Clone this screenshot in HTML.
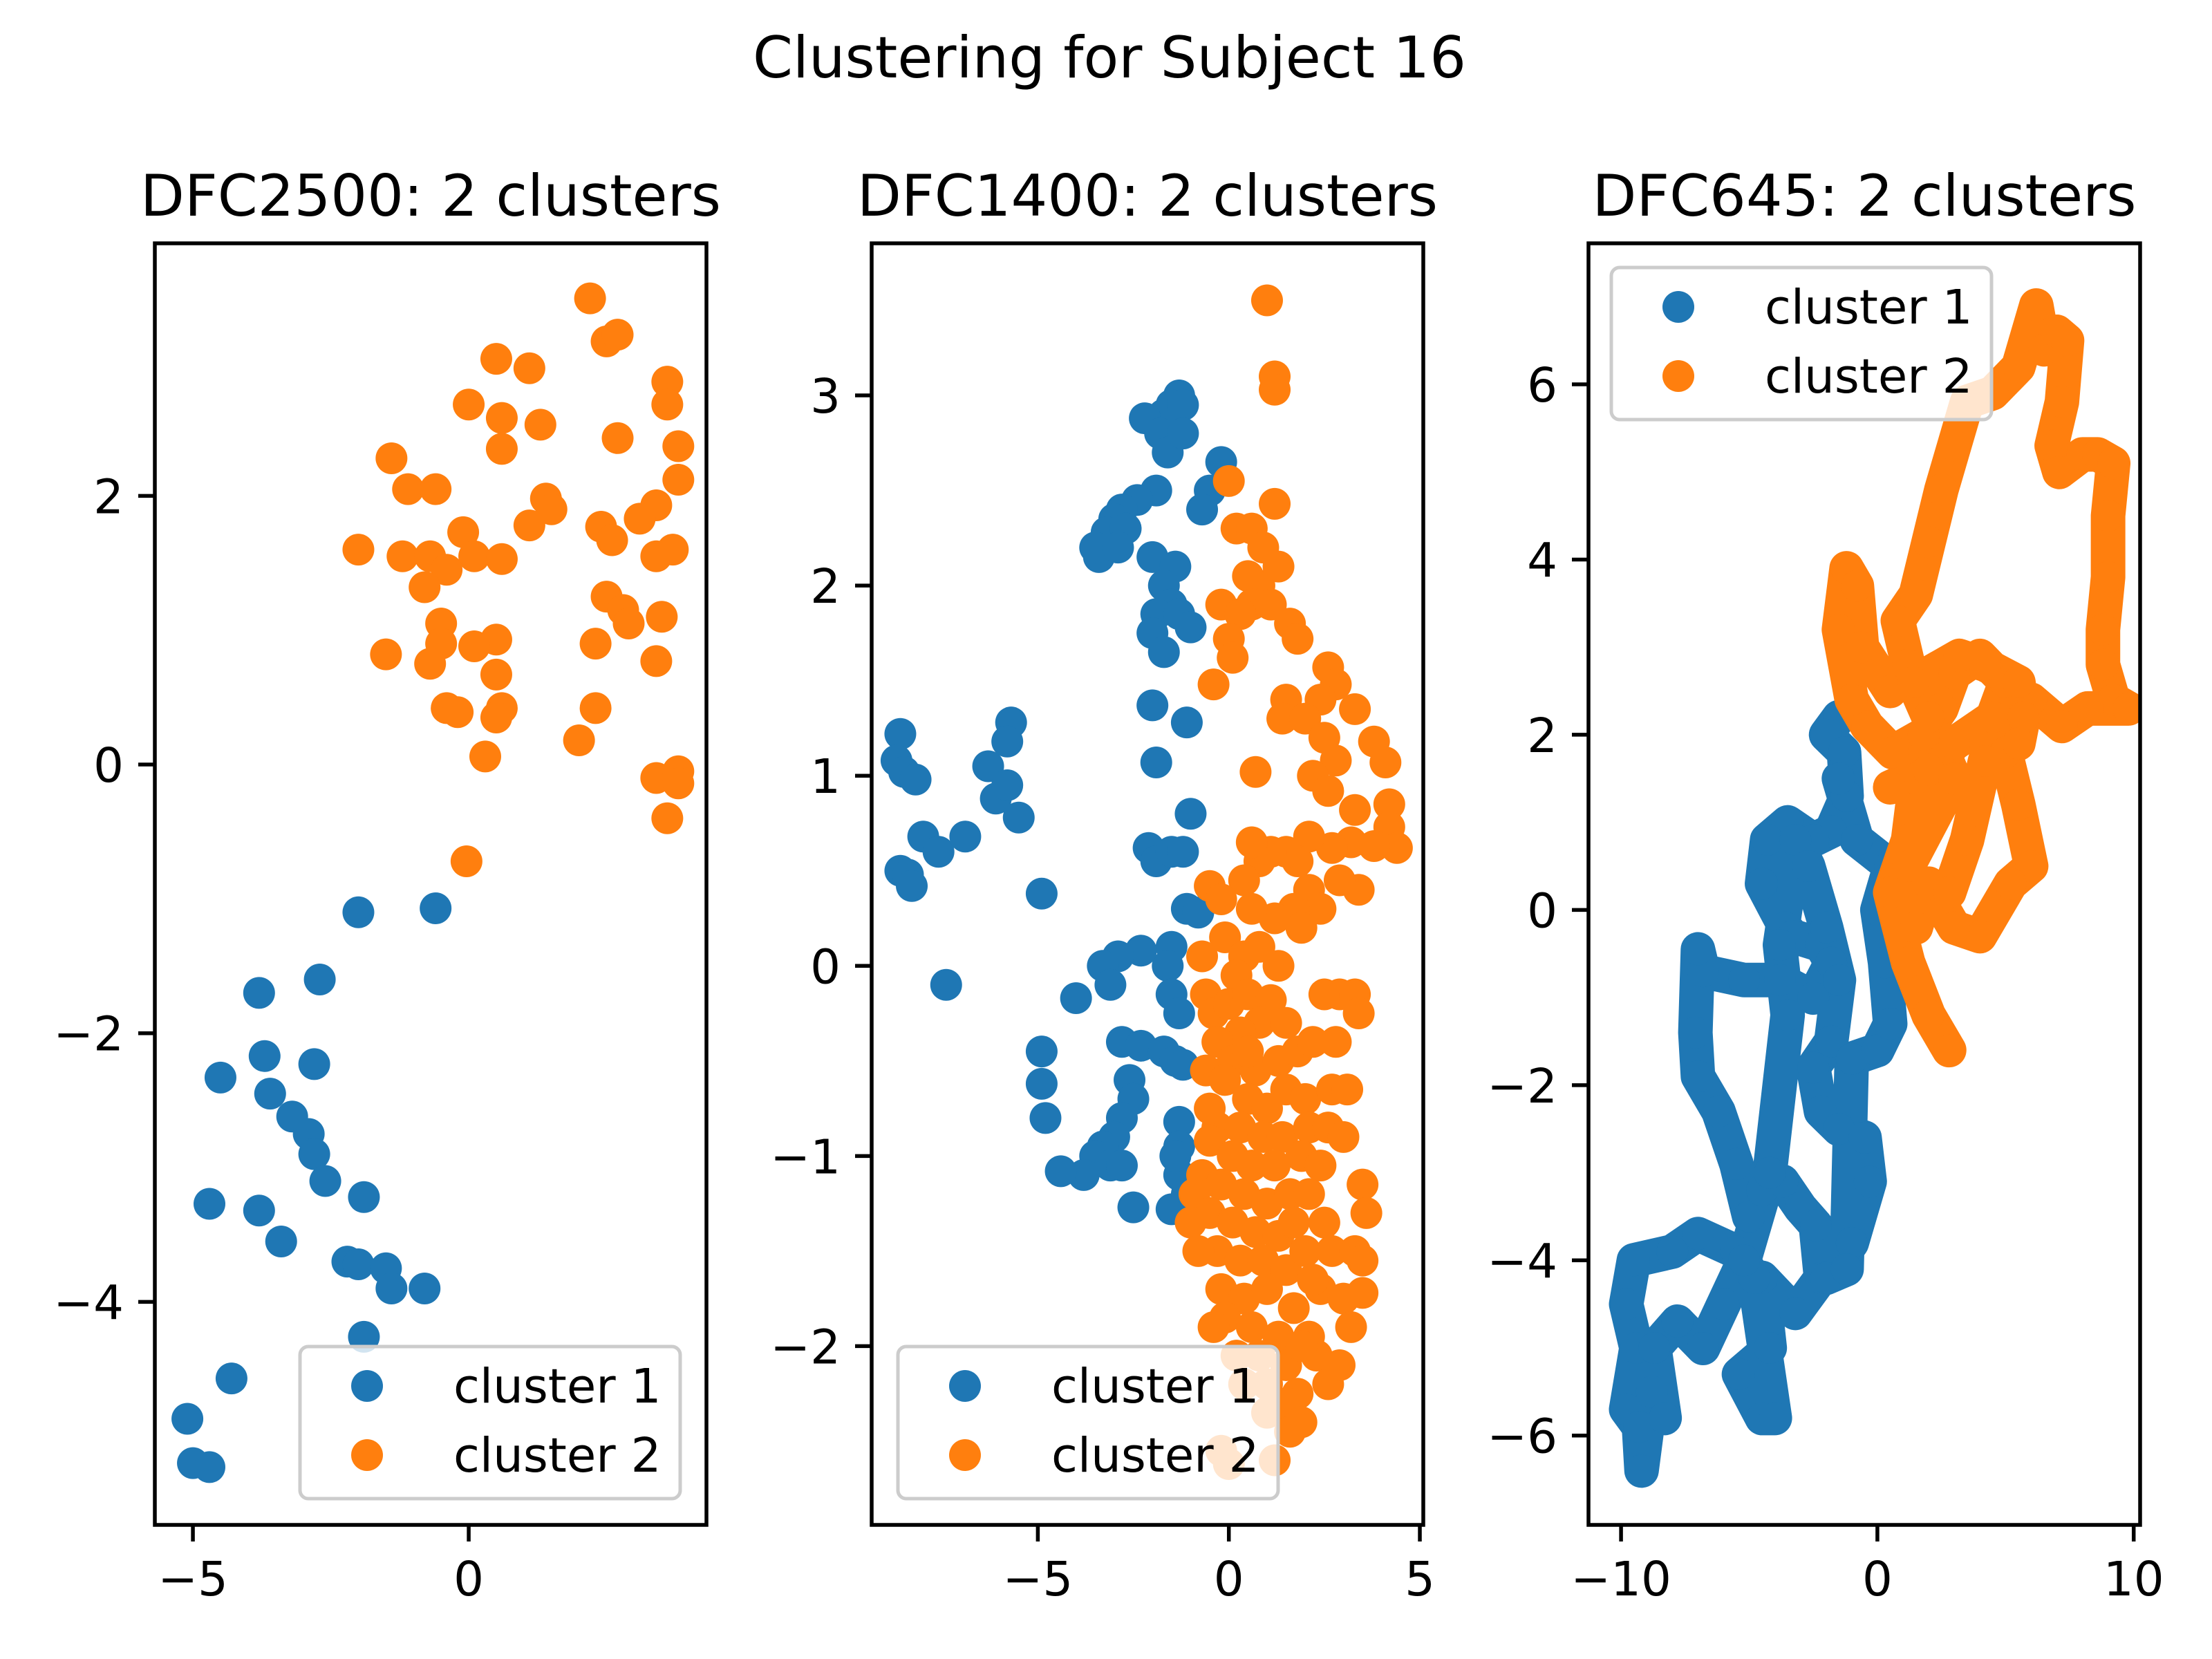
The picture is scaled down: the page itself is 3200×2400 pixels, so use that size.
<!DOCTYPE html>
<html><head><meta charset="utf-8">
<style>html,body{margin:0;padding:0;background:#fff}svg{display:block}</style>
</head><body>
<svg id="chart" xmlns="http://www.w3.org/2000/svg" width="3200" height="2400" viewBox="0 0 3200 2400" font-family="DejaVu Sans, Liberation Sans, sans-serif">
<rect width="3200" height="2400" fill="#fff"/>
<text x="1605" y="112" font-size="83" text-anchor="middle">Clustering for Subject 16</text>
</svg>
<script>
// ---- Panel 1 data (DFC2500) ----
const p1BlueX=[-0.6,-2,-2.7,-3.8,-3.7,-2.8,-4.5,-3.6,-3.2,-2.9,-2.8,-2.6,-1.9,-4.7,-3.8,-3.4,-2.2,-2,-1.5,-1.4,-0.8,-1.9,-4.3,-5.1,-5,-4.7];
const p1BlueY=[-1.07,-1.1,-1.6,-1.7,-2.17,-2.23,-2.33,-2.45,-2.62,-2.75,-2.9,-3.1,-3.22,-3.27,-3.32,-3.55,-3.7,-3.72,-3.75,-3.9,-3.9,-4.26,-4.57,-4.87,-5.2,-5.23];
const p1OrangeX=[2.2,2.5,2.7,0.5,1.1,3.6,3.6,0,0.6,1.3,2.7,0.6,3.8,-1.4,-1.1,-0.6,3.8,1.4,1.5,3.4,3.1,1.1,2.4,-0.1,2.6,-2,-1.2,-0.7,0.1,0.6,3.4,3.7,-0.4,-0.8,2.5,2.8,3.5,-0.5,2.9,0.5,2.3,0.1,-0.5,-1.5,-0.7,3.4,0.5,-0.4,-0.2,0.6,0.5,2.3,2,0.3,3.4,3.8,3.8,3.6,-0.04];
const p1OrangeY=[3.47,3.15,3.2,3.02,2.95,2.85,2.68,2.68,2.58,2.53,2.43,2.35,2.37,2.28,2.05,2.05,2.12,1.98,1.9,1.93,1.83,1.78,1.77,1.73,1.67,1.6,1.55,1.55,1.55,1.53,1.55,1.6,1.45,1.32,1.25,1.15,1.1,1.05,1.05,0.93,0.9,0.88,0.9,0.82,0.75,0.77,0.67,0.42,0.39,0.42,0.35,0.42,0.18,0.06,-0.1,-0.05,-0.14,-0.4,-0.72];
const p1XTicks=[-5,0];const p1YTicks=[-4,-2,0,2];

// ---- Panel 2 data (DFC1400) ----
const p2BlueX=[-1.3,-1.5,-1.7,-2.2,-1.2,-1.8,-1.6,-1.2,-1.9,-2.4,-2.8,-3,-3.2,-2.7,-3.4,-3.5,-2.9,-0.2,-0.5,-0.7,-2,-1.4,-1.7,-1.5,-1.9,-1.3,-1,-2,-1.7,-2,-1.1,-1.9,-1,-2.1,-1.9,-1.5,-1.2,-1.1,-0.8,-1.5,-1.6,-2.3,-2.9,-3.3,-3.1,-4,-1.5,-1.3,-2.8,-2.3,-1.7,-1.4,-1.2,-4.9,-4.9,-4.8,-2.6,-2.5,-2.8,-3,-3.3,-3.5,-3.1,-3.8,-4.4,-2.8,-1.3,-1.3,-1.3,-1.5,-2.5,-1.1,-1.4,-8.6,-8.7,-8.5,-8.2,-8,-7.6,-6.9,-8.6,-8.4,-8.3,-6.3,-5.7,-5.8,-6.1,-5.8,-5.5,-4.9,-7.4];
const p2BlueY=[3,2.95,2.9,2.88,2.95,2.8,2.7,2.8,2.5,2.45,2.4,2.35,2.28,2.3,2.15,2.2,2.2,2.65,2.5,2.4,2.15,2.1,2,1.9,1.85,1.85,1.78,1.75,1.65,1.37,1.28,1.07,0.8,0.62,0.55,0.6,0.6,0.3,0.28,0.1,0,0.08,0.05,0,-0.1,-0.17,-0.15,-0.25,-0.4,-0.42,-0.45,-0.5,-0.52,-0.45,-0.62,-0.8,-0.6,-0.7,-0.8,-0.9,-0.95,-1,-1.05,-1.1,-1.08,-1.05,-0.82,-0.95,-1.1,-1.28,-1.27,-1.2,-1,1.22,1.08,1.02,0.98,0.68,0.6,0.68,0.5,0.48,0.42,1.05,1.28,1.18,0.88,0.95,0.78,0.38,-0.1];
const p2OrangeX=[1,1.2,1.2,1.2,0,0.2,0.6,0.9,0.8,0.5,1.3,0.6,-0.2,0.3,1.1,0,1.6,1.8,0.1,-0.4,2.6,2.8,2.4,3.3,1.5,1.4,2,2.5,3.8,2.8,4.1,2.2,0.7,2.6,3.3,4.2,4.2,4.4,3.8,3.2,2.7,2.1,1.8,1.5,1.1,0.8,0.6,0.4,-0.5,-0.2,3.4,2.9,2.1,2.4,1.7,1.2,0.6,1.9,-0.1,0.4,0.8,-0.7,1.3,0.2,-0.6,-0.4,0,0.5,1.1,0.8,0.3,-0.3,1.5,2.5,2.9,3.3,3.4,0.1,0.7,1.3,1.8,2.2,2.8,-0.6,-0.1,0.5,1,1.5,2,2.7,3.1,-0.3,0.3,0.9,1.4,2.1,2.6,-0.5,0.1,0.6,1.2,1.9,2.4,3,-0.7,-0.2,0.4,1,1.6,2.1,3.5,3.6,-0.9,-0.5,0.1,0.7,1.3,2.5,-1,-0.3,0.3,0.9,1.5,2,2.7,3.3,3.5,-0.8,-0.2,0.4,1,1.7,2.4,3,3.5,-0.1,0.6,1.3,2.1,3.2,0.2,0.8,1.5,2.3,0.4,1,1.8,2.6,2.9,1,1.5,1.9,1.6,-0.2,0,1.2,1.9,-0.4,0.5,-0.5,1.7,2.2];
const p2OrangeY=[3.5,3.1,3.03,2.43,2.55,2.3,2.3,2.2,2,2.05,2.1,1.9,1.9,1.85,1.9,1.72,1.8,1.72,1.62,1.48,1.57,1.48,1.4,1.35,1.4,1.3,1.3,1.2,1.18,1.08,1.07,1,1.02,0.92,0.82,0.85,0.73,0.62,0.63,0.65,0.62,0.68,0.55,0.6,0.6,0.55,0.65,0.45,0.42,0.35,0.4,0.45,0.4,0.3,0.3,0.25,0.3,0.2,0.15,0.05,0.1,0.05,0,-0.05,-0.15,-0.25,-0.2,-0.15,-0.18,-0.3,-0.35,-0.4,-0.3,-0.15,-0.15,-0.15,-0.25,-0.5,-0.55,-0.5,-0.45,-0.4,-0.4,-0.55,-0.6,-0.7,-0.75,-0.65,-0.7,-0.65,-0.65,-0.85,-0.85,-0.9,-0.9,-0.85,-0.85,-0.92,-1,-1.05,-1.05,-1,-1.05,-0.9,-1.1,-1.15,-1.2,-1.25,-1.2,-1.2,-1.15,-1.3,-1.2,-1.3,-1.35,-1.4,-1.42,-1.35,-1.35,-1.5,-1.55,-1.55,-1.6,-1.5,-1.5,-1.5,-1.55,-1.5,-1.7,-1.75,-1.7,-1.8,-1.7,-1.75,-1.72,-1.85,-1.9,-1.95,-1.95,-1.9,-2.05,-2.05,-2.1,-2.05,-2.2,-2.2,-2.25,-2.2,-2.1,-2.35,-2.3,-2.4,-2.45,-2.55,-2.62,-2.6,-2,-1.9,-0.45,-0.75,-1.35,-1.65];
const p2XTicks=[-5,0,5];const p2YTicks=[-2,-1,0,1,2,3];

// ---- Panel 3 data (DFC645), trajectory samples ----
const p3BlueX=[-1.5,-2,-1.3,-1.2,-1.8,-2.5,-3.5,-4.3,-4.5,-3.6,-3.3,-2.2,-1.8,-2.5,-3.8,-5.2,-6.8,-7,-7.1,-7,-6.2,-5.5,-5,-4.5,-3.7,-3,-2.4,-2.2,-3.2,-4.5,-4.2,-5.4,-4.5,-4,-4.8,-5.5,-7,-8,-9.5,-9.8,-9.4,-9.8,-9.3,-9.2,-8.8,-8.3,-8.7,-7.8,-6.8,-6,-5.2,-4.2,-3.5,-3.8,-3.2,-2.7,-2,-1.5,-1.8,-2.5,-2.2,-1.5,-0.5,-0.3,-1,-2,-1.2,-1,0,0.5,0.3,0,0.5,-0.8,-1.5];
const p3BlueY=[2.2,2,1.8,1.3,0.9,0.8,1,0.8,0.3,-0.2,-0.3,-0.4,-0.6,-1,-0.8,-0.8,-0.7,-0.45,-1.4,-1.9,-2.3,-2.9,-3.5,-3.2,-3.1,-3.4,-3.6,-4.2,-4.6,-4.2,-5,-5.3,-5.8,-5.8,-4.2,-3.9,-3.7,-3.9,-4,-4.5,-5,-5.7,-5.9,-6.4,-5.5,-5.8,-5,-4.7,-5,-4.5,-4,-3,-1.2,-0.4,0.8,0.5,-0.2,-0.8,-1.5,-1.8,-2.3,-2.5,-2.6,-3.1,-3.8,-4.2,-4.1,-1.7,-1.6,-1.3,-0.6,0,0.5,0.8,1.5];
const p3OrangeX=[2.8,2,1.2,0.5,1.2,1.5,0.5,2,3,4.5,5,4,3,2.5,1.8,0.6,-0.4,-1,-1.5,-1.2,-0.8,-0.6,0.5,1.2,0.8,1.5,2,2.5,3,3.5,4.5,5.5,6.2,6.5,7,7.4,7.2,6.8,7.1,8,8.6,9.2,9,9,8.8,8.8,9.2,9.8,8.2,7.2,6,5,5.5,6,5.2,4,3,2,1.5,1.2,3,2,1.4,3.2,4.2,5.5,5.7,5.5,4.2,3.5,2.8];
const p3OrangeY=[-1.6,-1.2,-0.6,0.2,0.8,1.5,1.4,1.6,1.9,2.2,2.6,2.9,2.7,2.3,2,1.8,2.1,2.4,3.2,3.9,3.7,3,2.5,2.8,3.3,3.6,4.2,4.8,5.3,5.8,5.9,6.2,6.9,6.4,6.6,6.5,5.8,5.3,5,5.2,5.2,5.1,4.5,3.8,3.2,2.8,2.4,2.3,2.3,2.1,2.4,1.8,1.2,0.5,0.3,-0.3,-0.2,0.3,-0.2,0.5,1.5,2.2,2.6,2.9,2.8,2.6,2.2,1.9,1.7,0.8,0.2];
const p3XTicks=[-10,0,10];const p3YTicks=[-6,-4,-2,0,2,4,6];

const legendLabels=['cluster 1','cluster 2'];
const titles=['DFC2500: 2 clusters','DFC1400: 2 clusters','DFC645: 2 clusters'];

const NS='http://www.w3.org/2000/svg';
const svg=document.getElementById('chart');
const BLUE='#1f77b4',ORANGE='#ff7f0e',R=23;
function mk(tag,attrs,parent){const e=document.createElementNS(NS,tag);for(const k in attrs)e.setAttribute(k,attrs[k]);(parent||svg).appendChild(e);return e;}

const panels=[
 {left:224,xmin:-5.69,xmax:4.31,ymin:-5.66,ymax:3.88,b:[p1BlueX,p1BlueY],o:[p1OrangeX,p1OrangeY],xt:p1XTicks,yt:p1YTicks,path:false,leg:'lr',key:'dfc2500'},
 {left:1261,xmin:-9.35,xmax:5.09,ymin:-2.94,ymax:3.80,b:[p2BlueX,p2BlueY],o:[p2OrangeX,p2OrangeY],xt:p2XTicks,yt:p2YTicks,path:false,leg:'ll',key:'dfc1400'},
 {left:2298,xmin:-11.27,xmax:10.25,ymin:-7.02,ymax:7.61,b:[p3BlueX,p3BlueY],o:[p3OrangeX,p3OrangeY],xt:p3XTicks,yt:p3YTicks,path:true,leg:'ul',key:'dfc645'}
];
const TOP=352,BOT=2206,W=798;

panels.forEach((p,i)=>{
  const L=p.left,Rr=L+W;
  const sx=v=>L+(v-p.xmin)/(p.xmax-p.xmin)*W;
  const sy=v=>BOT-(v-p.ymin)/(p.ymax-p.ymin)*(BOT-TOP);
  const g=mk('g',{});
  
  
  const t=mk('text',{x:L+W/2,y:312,'font-size':83,'text-anchor':'middle'},g);
  
  
  t.textContent=titles[i];
  const clipId='clip'+i;
  const cp=mk('clipPath',{id:clipId},g);mk('rect',{x:L,y:TOP,width:W,height:BOT-TOP},cp);
  const plot=mk('g',{'clip-path':'url(#'+clipId+')'},g);
  [[p.b,BLUE,'blue'],[p.o,ORANGE,'orange']].forEach(([d,c,nm])=>{
    const sg=mk('g',{},plot);
    
    
    if(p.path){
      const pts=d[0].map((x,k)=>sx(x)+','+sy(d[1][k])).join(' ');
      const pl=mk('polyline',{points:pts,fill:'none',stroke:c,'stroke-width':2*R+4,'stroke-linejoin':'round','stroke-linecap':'round'},sg);
      
      
    }
    d[0].forEach((x,k)=>{
      const ci=mk('circle',{cx:sx(x),cy:sy(d[1][k]),r:R,fill:c},sg);
      
      
    });
  });
  const fr=mk('rect',{x:L,y:TOP,width:W,height:BOT-TOP,fill:'none',stroke:'#000','stroke-width':5.5},g);
  
  
  p.xt.forEach(v=>{
    const x=sx(v);
    mk('line',{x1:x,x2:x,y1:BOT,y2:BOT+24,stroke:'#000','stroke-width':5.5},g);
    const tl=mk('text',{x:x,y:2308,'font-size':69,'text-anchor':'middle'},g);
    
    
    tl.textContent=(v<0?'\u2212':'')+Math.abs(v);
  });
  p.yt.forEach(v=>{
    const y=sy(v);
    mk('line',{x1:L,x2:L-24,y1:y,y2:y,stroke:'#000','stroke-width':5.5},g);
    const tl=mk('text',{x:L-45,y:y+25,'font-size':69,'text-anchor':'end'},g);
    
    
    tl.textContent=(v<0?'\u2212':'')+Math.abs(v);
  });
  const lw=550,lh=220;
  let lx,ly;
  if(p.leg==='lr'){lx=Rr-lw-38;ly=BOT-lh-38;}
  else if(p.leg==='ll'){lx=L+38;ly=BOT-lh-38;}
  else {lx=L+33;ly=TOP+35;}
  const lg=mk('g',{},g);
  
  
  mk('rect',{x:lx,y:ly,width:lw,height:lh,rx:12,fill:'#fff','fill-opacity':0.8,stroke:'#ccc','stroke-width':5},lg);
  [BLUE,ORANGE].forEach((c,k)=>{
    const yy=ly+57+k*100;
    const e=mk('g',{},lg);
    
    
    mk('circle',{cx:lx+97,cy:yy,r:R,fill:c},e);
    const tx=mk('text',{x:lx+222,y:yy+24,'font-size':69},e);
    tx.textContent=legendLabels[k];
  });
});
</script>
</body></html>
